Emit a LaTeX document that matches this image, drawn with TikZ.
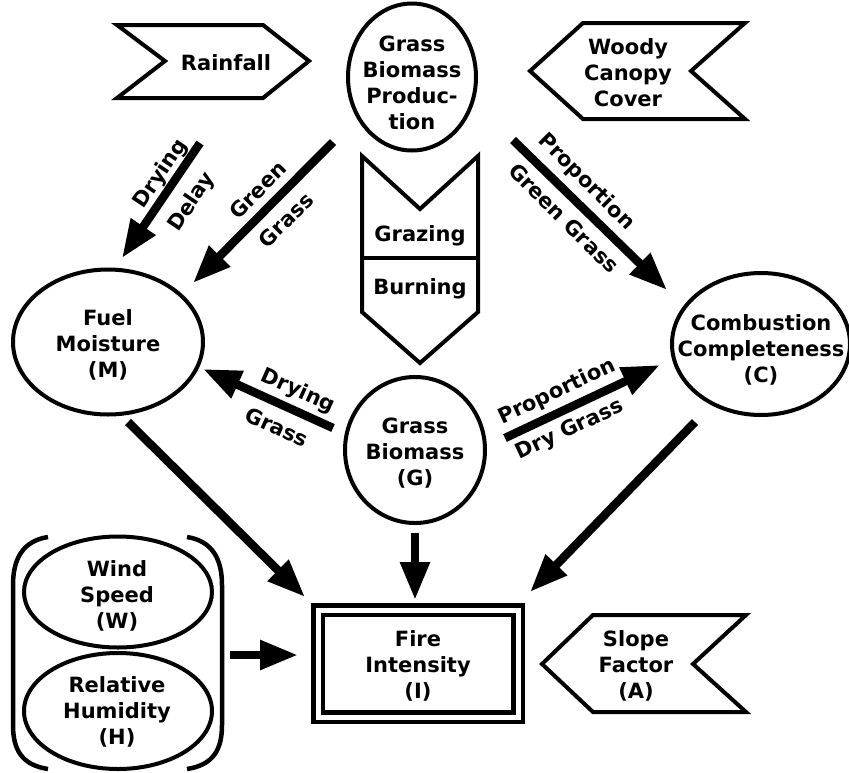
\documentclass[tikz,border=0pt]{standalone}
\usepackage{fontspec}
\setmainfont{DejaVu Sans}
\usetikzlibrary{arrows.meta,shapes.geometric}
\begin{document}
\begin{tikzpicture}[x=1pt,y=-1pt,
  txt/.style={font=\fontsize{21}{26}\selectfont\bfseries, align=center, inner sep=0pt},
  shp/.style={draw, line width=4pt, line join=miter},
  ell/.style={ellipse, draw, line width=4pt, inner sep=0pt},
  arr/.style={line width=8.5pt, -{Triangle[length=38pt,width=28pt]}}]
\useasboundingbox (0,0) rectangle (849,772);

% ---- ellipses / circles
\node[ell, minimum width=128pt, minimum height=147pt] (gbp) at (412,77) {};
\node[txt] (gbpt) at (412,83) {Grass\\Biomass\\Produc-\\tion};
\node[ell, minimum width=190pt, minimum height=145pt] (m) at (108,342) {};
\node[txt] (mt) at (108,345) {Fuel\\Moisture\\(M)};
\node[ell, minimum width=178pt, minimum height=142pt] (c) at (761,344) {};
\node[txt] (ct) at (761,350) {Combustion\\Completeness\\(C)};
\node[ell, minimum width=140pt, minimum height=146pt] (g) at (415,450) {};
\node[txt] (gt) at (415,453) {Grass\\Biomass\\(G)};
\node[ell, minimum width=188pt, minimum height=111pt] (w) at (118,592) {};
\node[txt] (wt) at (117,596) {Wind\\Speed\\(W)};
\node[ell, minimum width=188pt, minimum height=116pt] (h) at (118,711) {};
\node[txt] (ht) at (117,712) {Relative\\Humidity\\(H)};

% ---- fire intensity (double box)
\node[draw, line width=4.5pt, double, double distance=5pt,
      minimum width=200pt, minimum height=107pt, inner sep=0pt] (fi) at (418,663.5) {};
\node[txt] (fit) at (418,666) {Fire\\Intensity\\(I)};

% ---- signal shapes
\draw[shp] (117,25) -- (263,25) -- (309,61) -- (263,98) -- (117,98) -- (165,61) -- cycle;
\node[txt] (rain) at (226,63) {Rainfall};
\draw[shp] (583,23) -- (745,23) -- (691,71) -- (745,119) -- (583,119) -- (530,71) -- cycle;
\node[txt] (wood) at (628,73) {Woody\\Canopy\\Cover};
\draw[shp] (593,615) -- (746,615) -- (693,664) -- (746,712) -- (593,712) -- (542,664) -- cycle;
\node[txt] (slope) at (636,666) {Slope\\Factor\\(A)};
\draw[shp] (362,156) -- (420,209) -- (478,156) -- (478,312) -- (420,363) -- (362,312) -- cycle;
\draw[line width=4pt] (362,258) -- (478,258);
\node[txt] (graz) at (420,236) {Grazing};
\node[txt] (burn) at (420,289) {Burning};

% ---- brackets around W and H
\draw[line width=4.5pt] (48,537) .. controls (22,541) and (13,560) .. (13,585) -- (13,725) .. controls (13,750) and (22,765) .. (48,769);
\draw[line width=4.5pt] (187,537) .. controls (213,541) and (222,560) .. (222,585) -- (222,725) .. controls (222,750) and (213,765) .. (187,769);

% ---- arrow end coordinates
\coordinate (ddA) at (200,143); \coordinate (ddB) at (122,258);
\coordinate (ggA) at (333,142); \coordinate (ggB) at (193,283);
\coordinate (pgA) at (513,140); \coordinate (pgB) at (667,290);
\coordinate (dgA) at (333,428); \coordinate (dgB) at (203,369);
\coordinate (pdA) at (505,438); \coordinate (pdB) at (660,365);
\coordinate (miA) at (128,422); \coordinate (miB) at (305,597);
\coordinate (giA) at (415,533); \coordinate (giB) at (415,600);
\coordinate (ciA) at (695,422); \coordinate (ciB) at (530,592);
\coordinate (whA) at (230,655); \coordinate (whB) at (298,655);

\draw[arr] (ddA) -- (ddB);
\draw[arr] (ggA) -- (ggB);
\draw[arr] (pgA) -- (pgB);
\draw[arr] (dgA) -- (dgB);
\draw[arr] (pdA) -- (pdB);
\draw[arr] (miA) -- (miB);
\draw[arr] (giA) -- (giB);
\draw[arr] (ciA) -- (ciB);
\draw[arr] (whA) -- (whB);

% ---- arrow labels
\node[txt, rotate=56] (l1) at (161,174) {Drying};
\node[txt, rotate=56] (l2) at (192,202) {Delay};
\node[txt, rotate=45] (l3) at (258,190) {Green};
\node[txt, rotate=45] (l4) at (286,220) {Grass};
\node[txt, rotate=-45] (l5) at (586,182) {Proportion};
\node[txt, rotate=-45] (l6) at (564,218) {Green Grass};
\node[txt, rotate=-24] (l7) at (298,391) {Drying};
\node[txt, rotate=-24] (l8) at (277,427) {Grass};
\node[txt, rotate=25] (l9) at (557,392) {Proportion};
\node[txt, rotate=25] (l10) at (570,430) {Dry Grass};
\end{tikzpicture}
\end{document}
